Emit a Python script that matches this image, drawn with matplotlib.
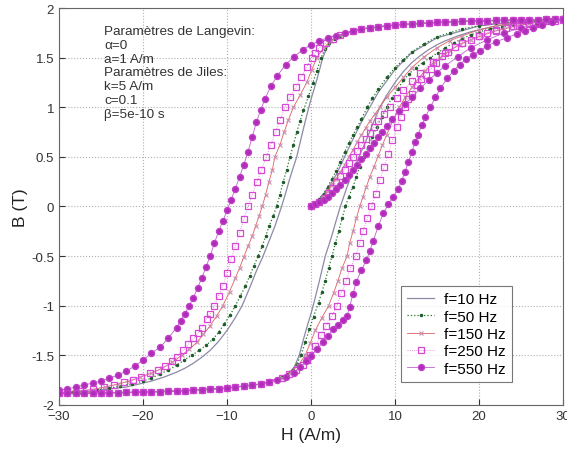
import matplotlib
matplotlib.use("Agg")
import matplotlib.pyplot as plt

plt.rcParams['font.family'] = ['Liberation Sans', 'DejaVu Sans']

# saturated part shared by all descending branches (H from 30 down)
top_H = [30, 29, 28, 27, 26, 25, 24, 23, 22, 21, 20, 19, 18, 17, 16, 15, 14, 13, 12, 11, 10, 9, 8, 7, 6, 5]
top_B = [1.885, 1.885, 1.885, 1.882, 1.88, 1.88, 1.878, 1.876, 1.875, 1.872, 1.87, 1.868, 1.865, 1.862, 1.86, 1.855,
         1.85, 1.845, 1.84, 1.835, 1.83, 1.82, 1.81, 1.8, 1.79, 1.77]
# and by all ascending branches (H from -30 up)
bot_H = [-30, -29, -28, -27, -26, -25, -24, -23, -22, -21, -20, -19, -18, -17, -16, -15, -14, -13, -12, -11, -10, -9, -8, -7, -6, -5]
bot_B = [-1.885, -1.885, -1.885, -1.882, -1.88, -1.88, -1.878, -1.876, -1.875, -1.872, -1.87, -1.868, -1.865, -1.862, -1.86, -1.855,
         -1.85, -1.845, -1.84, -1.835, -1.83, -1.82, -1.81, -1.8, -1.79, -1.77]

# f = 10 Hz
desc10_H = [3.5, 2.6, 2, 1.4, 0.9, 0.5, 0, -0.5, -1.0, -1.7, -2.2, -2.6, -3.0, -3.5, -4.3, -5, -5.8, -6.5,
            -7.3, -8.2, -9, -10, -11, -12, -13, -14, -15, -16, -17.5, -19, -20.5, -22, -24, -26, -28, -30]
desc10_B = [1.72, 1.68, 1.62, 1.5, 1.34, 1.22, 1.08, 0.92, 0.75, 0.5, 0.37, 0.26, 0.14, 0.0, -0.2, -0.35, -0.52, -0.65,
            -0.82, -1.0, -1.12, -1.25, -1.36, -1.45, -1.52, -1.58, -1.63, -1.67, -1.72, -1.76, -1.79, -1.82, -1.84, -1.86, -1.875, -1.885]
asc10_H = [-3.5, -2.6, -2, -1.4, -0.9, -0.5, 0, 0.5, 1.0, 1.7, 2.2, 2.6, 3.0, 3.5, 4.3, 5, 5.8, 6.5,
           7.3, 8.2, 9, 10, 11, 12, 13, 14, 15, 16, 17.5, 19, 20.5, 22, 24, 26, 28, 30]
asc10_B = [-1.72, -1.68, -1.62, -1.5, -1.34, -1.22, -1.08, -0.92, -0.75, -0.5, -0.37, -0.26, -0.14, 0.0, 0.2, 0.35, 0.52, 0.65,
           0.82, 1.0, 1.12, 1.25, 1.36, 1.45, 1.52, 1.58, 1.63, 1.67, 1.72, 1.76, 1.79, 1.82, 1.84, 1.86, 1.875, 1.885]
init10_H = [0, 1, 2, 3, 4, 5, 6, 7, 8, 10, 12, 15, 20, 25, 30]
init10_B = [0, 0.07, 0.18, 0.32, 0.5, 0.68, 0.85, 1.0, 1.15, 1.38, 1.55, 1.7, 1.82, 1.87, 1.885]

# f = 50 Hz
desc50_H = [3.5, 2.8, 2.2, 1.7, 1.2, 0.7, 0.2, -0.3, -0.9, -1.3, -1.7, -2.1, -2.5, -2.9, -3.3, -3.7, -4.1, -4.5, -5, -5.4,
            -5.8, -6.3, -6.8, -7.3, -7.8, -8.4, -9, -9.6, -10.3, -11, -11.7, -12.5, -13.3, -14.2, -15.1, -16, -17, -18, -19, -20,
            -21.3, -22.7, -24, -25.5, -27, -28.5, -30]
desc50_B = [1.72, 1.69, 1.65, 1.59, 1.5, 1.37, 1.24, 1.11, 0.97, 0.86, 0.75, 0.62, 0.5, 0.37, 0.25, 0.12, 0.0, -0.1, -0.2, -0.3,
            -0.4, -0.5, -0.6, -0.7, -0.8, -0.9, -1.0, -1.09, -1.18, -1.27, -1.34, -1.4, -1.45, -1.5, -1.55, -1.6, -1.65, -1.69, -1.73, -1.76,
            -1.79, -1.81, -1.83, -1.85, -1.865, -1.875, -1.885]
asc50_H = [-3.5, -2.8, -2.2, -1.7, -1.2, -0.7, -0.2, 0.3, 0.9, 1.3, 1.7, 2.1, 2.5, 2.9, 3.3, 3.7, 4.1, 4.5, 5, 5.4,
           5.8, 6.3, 6.8, 7.3, 7.8, 8.4, 9, 9.6, 10.3, 11, 11.7, 12.5, 13.3, 14.2, 15.1, 16, 17, 18, 19, 20,
           21.3, 22.7, 24, 25.5, 27, 28.5, 30]
asc50_B = [-1.72, -1.69, -1.65, -1.59, -1.5, -1.37, -1.24, -1.11, -0.97, -0.86, -0.75, -0.62, -0.5, -0.37, -0.25, -0.12, 0.0, 0.1, 0.2, 0.3,
           0.4, 0.5, 0.6, 0.7, 0.8, 0.9, 1.0, 1.09, 1.18, 1.27, 1.34, 1.4, 1.45, 1.5, 1.55, 1.6, 1.65, 1.69, 1.73, 1.76,
           1.79, 1.81, 1.83, 1.85, 1.865, 1.875, 1.885]
init50_H = [0, 0.5, 1, 1.5, 2, 2.5, 3, 3.5, 4, 4.5, 5, 5.5, 6, 6.7, 7.3, 8, 9, 10, 11, 12,
            13.5, 15, 16.5, 18, 20, 22, 24, 26, 28, 30]
init50_B = [0, 0.03, 0.08, 0.13, 0.2, 0.28, 0.36, 0.45, 0.55, 0.64, 0.72, 0.8, 0.88, 1.0, 1.09, 1.18, 1.3, 1.4, 1.48, 1.56,
            1.64, 1.71, 1.75, 1.79, 1.82, 1.845, 1.86, 1.87, 1.88, 1.885]

# f = 150 Hz
desc150_H = [3.5, 2.4, 1.5, 0.7, 0.1, -0.5, -1.3, -2.1, -2.7, -3.2, -3.7, -4.3, -4.6, -5.0, -5.4, -5.8, -6.2, -6.6, -7.0, -7.5,
             -8, -8.5, -9, -9.7, -10.5, -11.2, -12, -12.8, -13.6, -14.5, -15.4, -16.5, -17.7, -19, -20.3, -21.6, -23, -24.5, -26, -28, -30]
desc150_B = [1.73, 1.67, 1.6, 1.5, 1.38, 1.25, 1.12, 1.0, 0.87, 0.75, 0.62, 0.5, 0.37, 0.25, 0.12, 0.0, -0.1, -0.2, -0.3, -0.4,
             -0.51, -0.62, -0.72, -0.86, -1.0, -1.1, -1.2, -1.29, -1.37, -1.44, -1.5, -1.57, -1.63, -1.68, -1.72, -1.76, -1.79, -1.82, -1.845, -1.865, -1.88]
asc150_H = [-3.5, -2.4, -1.5, -0.7, -0.1, 0.5, 1.3, 2.1, 2.7, 3.2, 3.7, 4.3, 4.6, 5.0, 5.4, 5.8, 6.2, 6.6, 7.0, 7.5,
            8, 8.5, 9, 9.7, 10.5, 11.2, 12, 12.8, 13.6, 14.5, 15.4, 16.5, 17.7, 19, 20.3, 21.6, 23, 24.5, 26, 28, 30]
asc150_B = [-1.73, -1.67, -1.6, -1.5, -1.38, -1.25, -1.12, -1.0, -0.87, -0.75, -0.62, -0.5, -0.37, -0.25, -0.12, 0.0, 0.1, 0.2, 0.3, 0.4,
            0.51, 0.62, 0.72, 0.86, 1.0, 1.1, 1.2, 1.29, 1.37, 1.44, 1.5, 1.57, 1.63, 1.68, 1.72, 1.76, 1.79, 1.82, 1.845, 1.865, 1.88]
init150_H = [0, 0.5, 1, 1.5, 2, 2.5, 3, 3.5, 4, 4.5, 5, 5.5, 6, 6.5, 7, 7.6, 8.2, 9, 10, 11,
             12, 13.5, 15, 16.5, 18, 20, 22, 24, 26, 28, 30]
init150_B = [0, 0.03, 0.06, 0.1, 0.16, 0.22, 0.28, 0.35, 0.42, 0.5, 0.57, 0.65, 0.72, 0.79, 0.86, 0.93, 1.0, 1.1, 1.2, 1.3,
             1.4, 1.51, 1.6, 1.67, 1.72, 1.78, 1.82, 1.85, 1.87, 1.88, 1.885]

# f = 250 Hz
desc250_H = [3.5, 2.6, 1.8, 1.0, 0.5, 0.1, -0.5, -1.2, -1.8, -2.5, -3.1, -3.7, -4.2, -4.8, -5.3, -5.9, -6.4, -7, -7.5, -8,
             -8.5, -9, -9.5, -10, -10.5, -11, -11.5, -12, -12.4, -13, -13.5, -14, -14.6, -15.2, -16, -16.6, -17.4, -18.2, -19.2, -20.2,
             -21.2, -22.2, -23.4, -24.6, -26, -27.5, -29, -30]
desc250_B = [1.73, 1.69, 1.65, 1.6, 1.55, 1.5, 1.41, 1.3, 1.2, 1.1, 1.0, 0.87, 0.75, 0.62, 0.5, 0.37, 0.25, 0.12, 0.0, -0.13,
             -0.27, -0.4, -0.53, -0.67, -0.8, -0.9, -1.0, -1.08, -1.13, -1.22, -1.28, -1.33, -1.39, -1.45, -1.52, -1.56, -1.61, -1.65, -1.68, -1.72,
             -1.75, -1.77, -1.8, -1.82, -1.84, -1.86, -1.87, -1.875]
asc250_H = [-3.5, -2.6, -1.8, -1.0, -0.5, -0.1, 0.5, 1.2, 1.8, 2.5, 3.1, 3.6, 4.2, 4.7, 5.3, 5.8, 6.2, 6.7, 7.2, 7.7,
            8.2, 8.7, 9.2, 9.7, 10.2, 10.7, 11.2, 11.6, 12, 12.6, 13.1, 13.7, 14.3, 14.9, 15.6, 16.3, 17.1, 18, 19, 20,
            21, 22, 23.2, 24.5, 26, 27.5, 29, 30]
asc250_B = [-1.73, -1.69, -1.65, -1.6, -1.55, -1.5, -1.41, -1.3, -1.2, -1.1, -1.0, -0.87, -0.75, -0.62, -0.5, -0.37, -0.25, -0.12, 0.0, 0.13,
            0.27, 0.4, 0.53, 0.67, 0.8, 0.9, 1.0, 1.08, 1.13, 1.22, 1.28, 1.33, 1.39, 1.45, 1.52, 1.56, 1.61, 1.65, 1.68, 1.72,
            1.75, 1.77, 1.8, 1.82, 1.84, 1.86, 1.87, 1.875]
init250_H = [0, 0.5, 1, 1.5, 2, 2.5, 3, 3.5, 4, 4.5, 5, 5.5, 6, 6.5, 7, 7.5, 8, 8.7, 9.4, 10.2,
             11, 12, 13, 14.5, 16, 18, 20, 22, 24, 26, 28, 30]
init250_B = [0, 0.02, 0.05, 0.09, 0.14, 0.19, 0.25, 0.31, 0.37, 0.44, 0.5, 0.56, 0.62, 0.68, 0.74, 0.8, 0.86, 0.93, 1.0, 1.09,
             1.17, 1.26, 1.35, 1.46, 1.55, 1.65, 1.72, 1.78, 1.82, 1.85, 1.87, 1.885]

# f = 550 Hz
desc550_H = [4, 3, 2, 1, 0, -1, -2, -3, -4, -4.8, -5.5, -6, -6.5, -7, -7.5, -8, -8.5, -9, -9.5, -10, -10.5,
             -11, -11.5, -12, -12.5, -13, -13.5, -14, -14.5, -15, -15.5, -16, -17, -18, -19, -20, -21, -22, -23, -24, -25,
             -26, -27, -28, -29, -30]
desc550_B = [1.75, 1.72, 1.70, 1.67, 1.63, 1.58, 1.51, 1.43, 1.32, 1.21, 1.08, 0.97, 0.85, 0.70, 0.55, 0.42, 0.30, 0.18, 0.07, -0.04, -0.15,
             -0.25, -0.37, -0.50, -0.61, -0.72, -0.82, -0.92, -1.0, -1.08, -1.15, -1.22, -1.33, -1.42, -1.48, -1.55, -1.61, -1.66, -1.70, -1.73, -1.76,
             -1.78, -1.80, -1.82, -1.84, -1.85]
asc550_H = [-4, -3, -2, -1.3, -0.6, 0, 0.7, 1.4, 2, 2.6, 3.2, 3.8, 4.3, 4.6, 5.0, 5.4, 6.0, 6.6, 7.0, 7.4, 8.0,
            8.6, 9.2, 9.8, 10.4, 10.8, 11.2, 11.6, 12.0, 12.4, 12.7, 13.2, 13.6, 14.2, 14.8, 15.4, 16.2, 17, 17.7, 18.5, 19.3,
            20.1, 21, 22, 23.3, 24.5, 25.5, 26.4, 27.5, 28.7, 30]
asc550_B = [-1.75, -1.72, -1.68, -1.62, -1.56, -1.51, -1.44, -1.37, -1.31, -1.24, -1.19, -1.14, -1.10, -1.01, -0.88, -0.76, -0.64, -0.54, -0.45, -0.35, -0.2,
            -0.07, 0.02, 0.1, 0.18, 0.26, 0.35, 0.45, 0.55, 0.65, 0.72, 0.82, 0.9, 1.0, 1.1, 1.19, 1.29, 1.37, 1.43, 1.49, 1.53,
            1.57, 1.62, 1.66, 1.70, 1.74, 1.77, 1.80, 1.83, 1.86, 1.885]
init550_H = [0, 0.5, 1, 1.5, 2, 2.5, 3, 3.5, 4, 4.5, 5, 5.5, 6, 6.5, 7, 7.5, 8, 8.5, 9, 9.7,
             10.5, 11.2, 12, 13, 14, 15, 16, 17.5, 19, 21, 23, 25, 27, 28.5, 30]
init550_B = [0, 0.02, 0.04, 0.07, 0.1, 0.14, 0.18, 0.22, 0.27, 0.32, 0.37, 0.42, 0.48, 0.53, 0.59, 0.64, 0.7, 0.75, 0.81, 0.88,
             0.96, 1.03, 1.1, 1.19, 1.27, 1.35, 1.42, 1.51, 1.6, 1.68, 1.75, 1.8, 1.84, 1.865, 1.885]

labels = ['f=10 Hz', 'f=50 Hz', 'f=150 Hz', 'f=250 Hz', 'f=550 Hz']

curves = [
    (init10_H, init10_B, desc10_H, desc10_B, asc10_H, asc10_B),
    (init50_H, init50_B, desc50_H, desc50_B, asc50_H, asc50_B),
    (init150_H, init150_B, desc150_H, desc150_B, asc150_H, asc150_B),
    (init250_H, init250_B, desc250_H, desc250_B, asc250_H, asc250_B),
    (init550_H, init550_B, desc550_H, desc550_B, asc550_H, asc550_B),
]

styles = [
    dict(color='#8a8aa6', ls='-', lw=0.9, marker=None),
    dict(color='#1f7a2a', ls=':', lw=0.9, marker='.', ms=3, mfc='#1f5a2a', mec='#1f5a2a'),
    dict(color='#e06060', ls='-', lw=0.6, marker='x', ms=3.5, mec='#c890b0', mew=0.8),
    dict(color='#e070d0', ls=':', lw=0.6, marker='s', ms=4, mfc='none', mec='#d848d8', mew=0.9),
    dict(color='#c060d0', ls='-', lw=0.6, marker='o', ms=4.3, mfc='#b02cb8', mec='#c040c8'),
]

fig = plt.figure(figsize=(5.67, 4.52), dpi=100)
ax = fig.add_axes([0.104, 0.102, 0.889, 0.878])

handles = []
for (iH, iB, dH, dB, aH, aB), st, lab in zip(curves, styles, labels):
    h, = ax.plot(iH, iB, label=lab, **st)
    ax.plot(top_H + dH, top_B + dB, **st)
    ax.plot(bot_H + aH, bot_B + aB, **st)
    handles.append(h)

ax.set_xlim(-30, 30)
ax.set_ylim(-2, 2)
ax.set_xticks([-30, -20, -10, 0, 10, 20, 30])
ax.set_yticks([-2, -1.5, -1, -0.5, 0, 0.5, 1, 1.5, 2])
ax.set_yticklabels(['-2', '-1.5', '-1', '-0.5', '0', '0.5', '1', '1.5', '2'])
ax.tick_params(direction='in', labelsize=9.5, colors='#333333', length=4)
ax.grid(True, ls=':', color='#b0b0b0', lw=0.8)
for sp in ax.spines.values():
    sp.set_color('#666666')
    sp.set_linewidth(0.8)

ax.set_xlabel('H (A/m)', fontsize=12.5, color='#222222', labelpad=4)
ax.set_ylabel('B (T)', fontsize=12.5, color='#222222', labelpad=2)

ax.text(-24.6, 1.83,
        'Paramètres de Langevin:\n\u03b1=0\na=1 A/m\nParamètres de Jiles:\nk=5 A/m\nc=0.1\n\u03b2=5e-10 s',
        fontsize=9.7, color='#333333', va='top', ha='left', linespacing=1.2)

leg = ax.legend(handles=handles, loc='lower right', bbox_to_anchor=(0.899, 0.058),
                numpoints=1, fontsize=11, frameon=True, fancybox=False,
                edgecolor='#555555', handlelength=1.8, borderpad=0.4,
                labelspacing=0.22, handletextpad=0.65, borderaxespad=0)
leg.get_frame().set_linewidth(0.8)

fig.savefig('out.png', dpi=100)
